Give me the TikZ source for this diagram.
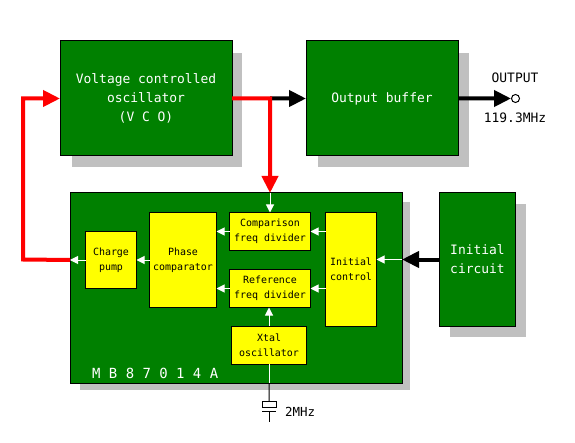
\documentclass[tikz,border=0pt]{standalone}
\usepackage{fontspec}
\setmonofont{DejaVu Sans Mono}
\usetikzlibrary{arrows.meta}
\definecolor{chipgreen}{HTML}{008000}
\definecolor{shadowgray}{HTML}{C0C0C0}
\definecolor{ylw}{HTML}{FFFF00}
\definecolor{redline}{HTML}{FF0000}
\begin{document}
\begin{tikzpicture}[x=1bp,y=-1bp,
  gbox/.style={draw=black, line width=1bp, fill=chipgreen, text=white,
    font=\ttfamily\fontsize{13}{19}\selectfont, align=center,
    inner sep=0pt, outer sep=0pt, anchor=north west},
  ybox/.style={draw=black, line width=1bp, fill=ylw, text=black,
    font=\ttfamily\fontsize{10}{15}\selectfont, align=center,
    inner sep=0pt, outer sep=0pt, anchor=north west},
  shad/.style={fill=shadowgray},
  redarrow/.style={draw=redline, line width=4bp, line join=miter,
    -{Triangle[length=17bp,width=16bp]}},
  blackarrow/.style={draw=black, line width=4bp,
    -{Triangle[length=17bp,width=16bp]}},
  whitearrow/.style={draw=white, line width=1bp,
    -{Triangle[length=8bp,width=8bp]}},
  lbl/.style={font=\ttfamily\fontsize{13}{15}\selectfont, inner sep=0pt}
]
\useasboundingbox[fill=white] (0,0) rectangle (575,443);

% shadows
\fill[shad] (72,53) rectangle (242,167);
\fill[shad] (318,53) rectangle (469,167);
\fill[shad] (80,202) rectangle (410,390);
\fill[shad] (450,204) rectangle (526,337);

% main boxes
\node[gbox, minimum width=172bp, minimum height=115bp] (vco) at (60,41)
  {Voltage controlled\\oscillator\\(V C O)};
\node[gbox, minimum width=152bp, minimum height=115bp] (buf) at (306,41)
  {Output buffer};
\node[gbox, minimum width=332bp, minimum height=190bp] (chip) at (70,193) {};
\node[gbox, minimum width=76bp, minimum height=133bp] (ic) at (439.5,193)
  {Initial\\circuit};

% inner blocks
\node[ybox, minimum width=51bp, minimum height=57bp] (cp) at (85.5,231.5)
  {Charge\\pump};
\node[ybox, minimum width=67bp, minimum height=95bp] (phase) at (149.5,212.5)
  {Phase\\comparator};
\node[ybox, minimum width=81bp, minimum height=38bp] (comp) at (229.5,212.5)
  {Comparison\\freq divider};
\node[ybox, minimum width=81bp, minimum height=38bp] (ref) at (229.5,269.5)
  {Reference\\freq divider};
\node[ybox, minimum width=51bp, minimum height=114bp] (init) at (325.5,212.5)
  {Initial\\control};
\node[ybox, minimum width=75bp, minimum height=38bp] (xtal) at (231.5,326)
  {Xtal\\oscillator};

\node[lbl, anchor=west, text=white, font=\ttfamily\fontsize{14}{15}\selectfont]
  (chipname) at (92,373) {M B 8 7 0 1 4 A};

% VCO -> buffer, red tap down to chip
\coordinate (j) at (270,98.5);
\draw[blackarrow] (j) -- (buf.west);
\draw[redarrow] (vco.east) -- (j) -- (j |- chip.north);

% output
\node[circle, draw=black, line width=1bp, fill=white, minimum size=8bp,
  inner sep=0pt] (outc) at (515.5,98.5) {};
\draw[blackarrow] (buf.east) -- (outc.west);
\node[lbl] (outlbl) at (515,78) {OUTPUT};
\node[lbl] (freqlbl) at (515,118) {119.3MHz};

% feedback from chip to VCO
\coordinate (fb1) at (23,259.5);
\coordinate (fb2) at (23,98.5);
\draw[redarrow] (cp.west -| chip.west) -- (fb1) -- (fb2) -- (vco.west);

% initial circuit -> chip
\draw[blackarrow] (ic.west) -- (ic.west -| chip.east);

% white arrows inside chip
\draw[whitearrow] (comp.north |- chip.north) -- (comp.north);
\draw[whitearrow] (comp.west) -- (comp.west -| phase.east);
\draw[whitearrow] (ref.west) -- (ref.west -| phase.east);
\draw[whitearrow] (comp.east -| init.west) -- (comp.east);
\draw[whitearrow] (ref.east -| init.west) -- (ref.east);
\draw[whitearrow] (cp.east -| phase.west) -- (cp.east);
\draw[whitearrow] (cp.west) -- (cp.west -| chip.west);
\draw[whitearrow] (xtal.north) -- (xtal.north |- ref.south);
\draw[whitearrow] (ic.west -| chip.east) -- (ic.west -| init.east);

% crystal
\coordinate (xt) at (269,401.5);
\draw[white, line width=1bp] (xtal.south) -- (xtal.south |- chip.south);
\draw[black, line width=1bp] (xtal.south |- chip.south) -- (xt);
\draw[black, line width=1bp] (262,401.5) rectangle (276,407.5);
\draw[black, line width=1bp] (262,411) -- (276,411);
\draw[black, line width=1bp] (269,411) -- (269,421.5);
\node[lbl, anchor=west, font=\ttfamily\fontsize{12.5}{15}\selectfont]
  (xfreq) at (285,411.5) {2MHz};
\end{tikzpicture}
\end{document}
